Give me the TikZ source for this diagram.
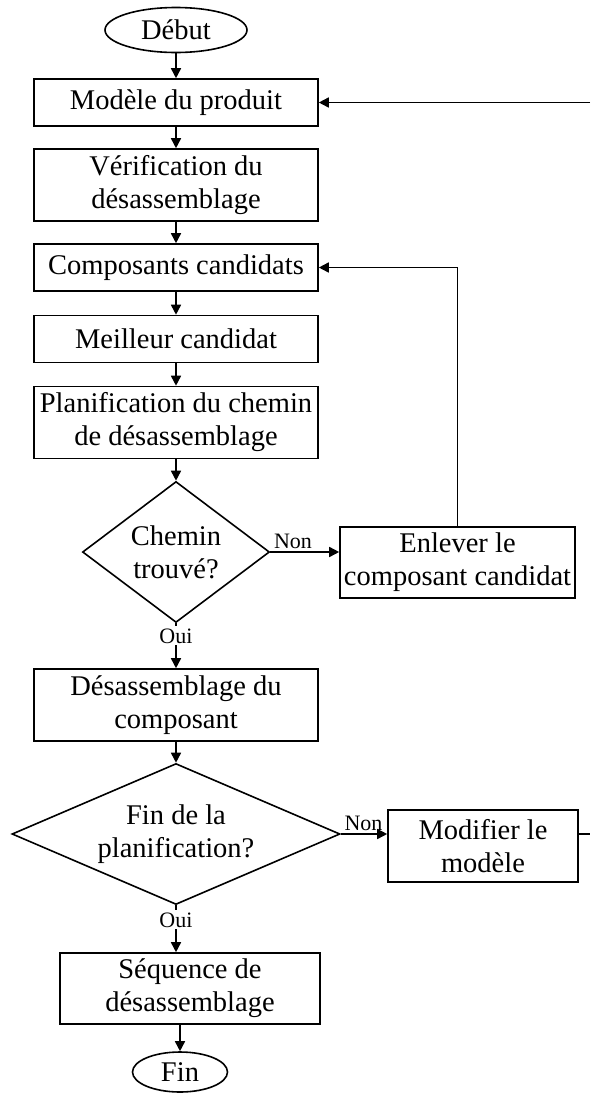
\documentclass[tikz,border=0pt]{standalone}
\usepackage{fontspec}
\setmainfont{Liberation Serif}
\usepackage{tikz}
\usetikzlibrary{shapes.geometric,arrows.meta}
\tikzset{start style/.style={
		draw=black,
		thick,
		fill=white,
		ellipse,
		minimum width=71pt,
		minimum height=22.5pt,
		inner sep=1pt,
		font=\fontsize{14.25pt}{16.5pt}\selectfont,
	},
	box style/.style={
		draw=black,
		thick,
		fill=white,
		rectangle,
		align=center,
		minimum width=142pt,
		minimum height=23.5pt,
		inner xsep=1.5pt,
		inner ysep=2pt,
		font=\fontsize{14.25pt}{16.5pt}\selectfont,
	},
	decision style/.style={
		draw=black,
		thick,
		fill=white,
		diamond,
		align=center,
		inner sep=0pt,
		font=\fontsize{14.25pt}{16.5pt}\selectfont,
	},
	answer style/.style={
		#1,
		text=black,
		inner sep=1pt,
		font=\fontsize{11pt}{13pt}\selectfont,
	}
}

\begin{document}
\begin{tikzpicture}[>={Triangle[length=5pt,width=5pt]}, thick]
	\useasboundingbox (-88pt,15pt) rectangle (207pt,-531.5pt);
	\coordinate (bord) at (207pt,0);

	\node[start style] (debut) {Début};

	\node[box style, below of=debut, node distance=36.25pt] (modele) {Modèle du produit}
	edge [<-] (debut);

	\node[box style, below of=modele, node distance=41.25pt, minimum height=36pt] (verif) {Vérification du\\désassemblage}
	edge [<-] (modele);

	\node[box style, below of=verif, node distance=41.25pt] (compo) {Composants candidats}
	edge [<-] (verif);

	\node[box style, below of=compo, node distance=35.75pt] (meilleur) {Meilleur candidat}
	edge [<-] (compo);

	\node[box style, below of=meilleur, node distance=41.75pt, minimum height=36pt] (planif) {Planification du chemin\\de désassemblage}
	edge [<-] (meilleur);

	\node[decision style, below of=planif, node distance=64.75pt, aspect=1.33, minimum width=93.5pt, minimum height=70.5pt] (chemin) {Chemin\\trouvé?}
	edge [<-] (planif);

	\node[box style, right of=chemin, node distance=140.75pt, yshift=-5.25pt, minimum width=117.5pt, minimum height=35.5pt] (enlever) {Enlever le\\composant candidat};

	\node[box style, below of=chemin, node distance=76.5pt, minimum height=36pt] (desass) {Désassemblage du\\composant}
	edge [<-] node[answer style={fill=white}, pos=0.72]{Oui} (chemin);

	\node[decision style, below of=desass, node distance=64.5pt, aspect=2.33, minimum width=164pt, minimum height=70.5pt] (finplan) {Fin de la\\planification?}
	edge [<-] (desass);

	\node[box style, right of=finplan, node distance=153.5pt, yshift=-6pt, minimum width=95pt, minimum height=36pt] (modif) {Modifier le\\modèle};

	\node[box style, below of=finplan, node distance=77.25pt, xshift=7pt, minimum width=130pt, minimum height=35.5pt] (sequence) {Séquence de\\désassemblage};

	\node[start style, below of=sequence, node distance=41.75pt, xshift=-5pt, minimum width=47.5pt, minimum height=20pt] (fin) {Fin};

	% branches Non / Oui
	\draw[->] (chemin.east) -- node[answer style=above, pos=0.33]{Non} (chemin.east -| enlever.west);
	\draw[->] (enlever.north) |- (compo.east);
	\draw[->] (finplan.east) -- node[answer style=above, pos=0.49]{Non} (finplan.east -| modif.west);
	\draw (finplan.east -| modif.east) -- (finplan.east -| bord);
	\draw[->] (modele.east -| bord) -- (modele.east);
	\draw[->] (finplan.south) -- node[answer style={fill=white}, pos=0.31]{Oui} (finplan.south |- sequence.north);
	\draw[->] (fin.north |- sequence.south) -- (fin.north);
\end{tikzpicture}
\end{document}
